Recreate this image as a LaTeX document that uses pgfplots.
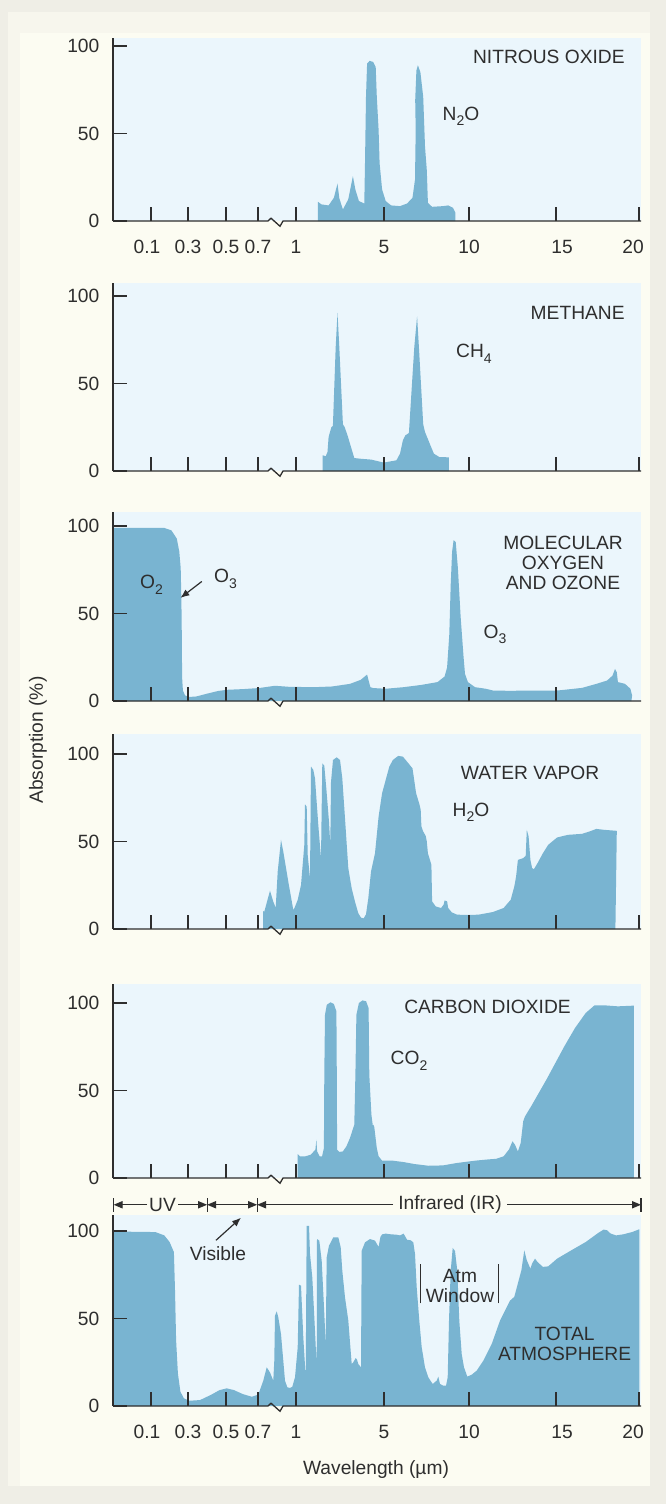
\documentclass[border=0pt]{standalone}
\usepackage{fontspec}
\setmainfont{Liberation Sans}
\usepackage{pgfplots}
\pgfplotsset{compat=1.18}
\usetikzlibrary{arrows.meta}

\definecolor{outerbg}{HTML}{EFEEE6}
\definecolor{cream}{HTML}{FCFCF2}
\definecolor{panelbg}{HTML}{EBF6FC}
\definecolor{band}{HTML}{79B4D1}
\definecolor{ink}{HTML}{2E2E2E}

\newcommand{\sub}[1]{\raisebox{-0.55ex}{\fontsize{7}{7}\selectfont #1}}
\newcommand{\lbl}{\fontsize{9.6}{10}\selectfont}

\pgfplotsset{
  panel/.style={
    x=0.5pt, y=0.875pt,
    xmin=113, xmax=641, ymin=0,
    anchor=south west,
    clip=false, axis on top,
    axis lines*=left,
    x axis line style={draw=none},
    y axis line style={ink, line width=0.65pt},
    axis background/.style={fill=panelbg},
    tick align=inside,
    major tick length=7.2pt,
    tick style={ink, line width=0.65pt},
    xtick={151,188,226,258,296,384,469,556,639},
    xticklabels={},
    ytick={0,50,100},
    /pgf/number format/assume math mode=true,
    yticklabel style={font=\lbl, text=ink, xshift=-3.3pt},
    xticklabel style={font=\lbl, text=ink, yshift=-6pt},
  },
  withx/.style={xticklabels={\hspace*{-4pt}0.1,0.3,0.5,0.7,1,5,10,15\hspace*{-6pt},\hspace*{-6pt}20}},
}
\newcommand{\xaxisline}{\draw[ink, line width=0.65pt] (axis cs:113,0) -- (axis cs:268,0) -- (axis cs:271,1.6) -- (axis cs:280,-3) -- (axis cs:283,0) -- (axis cs:641,0);}
\newcommand{\vbar}[3]{\draw[ink, line width=0.6pt] (axis cs:#1,#2) -- (axis cs:#1,#3);}
\tikzset{ah/.tip={Triangle[length=4.5pt,width=3.6pt]}}

\begin{document}
\begin{tikzpicture}[font=\lbl, text=ink]
\useasboundingbox (0,0) rectangle (333pt,-752pt);
\fill[outerbg] (0,0) rectangle (333pt,-752pt);
\fill[cream!60!outerbg] (4pt,-6pt) rectangle (325pt,-743pt);
\fill[cream] (10pt,-16.5pt) rectangle (325pt,-743pt);
\node[rotate=90] at (19pt,-370pt) {Absorption (\%)};
\node at (188pt,-735pt) {Wavelength (µm)};

% nitrous oxide
\begin{axis}[panel, withx, ymax=104.6, at={(56.5pt,-110.5pt)}]
\addplot[fill=band, draw=none] coordinates {
(317.9,0)(317.9,11)(321.4,9.5)(328.6,8.9)(333.9,13.3)(337.5,21.4)(339.3,13)(342.9,6.6)(348.2,12.3)(352.9,25.6)(355.4,17.9)(358.9,11.4)(364.3,10)(365,33)(366,71)(367.1,90)(369.6,91.5)(373.2,90.9)(375.7,88)(376.8,71)(378.6,52)(379.6,33)(382.1,18)(385.7,11.4)(391.1,8.9)(400,8.5)(407.1,10)(412.5,13.3)(415,23.7)(415.7,52)(415.2,69)(416.4,86)(417.9,89)(420.4,85)(423.2,71)(425,42.6)(426.8,29)(427.9,10.4)(432.1,8.1)(442.9,8.5)(448.2,8.9)(452.9,7.6)(455.4,4.7)(455.4,0)
} -- cycle;
\xaxisline
\node[anchor=east, inner xsep=0pt] at (axis cs:625,93.7) {NITROUS OXIDE};
\node[anchor=base] at (axis cs:461,57.7) {N\sub{2}O};
\end{axis}

% methane
\begin{axis}[panel, ymax=107.4, at={(56.5pt,-235.5pt)}]
\addplot[fill=band, draw=none] coordinates {
(322.5,0)(322.5,9)(325.7,8.4)(327.5,10.9)(328.6,19.4)(331.4,25.1)(332.9,25.7)(335.7,70.9)(337.5,90.3)(339.3,70.9)(342.9,26.7)(344.6,25.1)(347.5,20.4)(350,15.6)(354.3,7.4)(360.7,7)(371.4,6.5)(378.6,5.5)(383.2,4.9)(383.2,0)
} -- cycle;
\addplot[fill=band, draw=none] coordinates {
(384.6,0)(384.6,4.9)(396.4,6.1)(400,9.9)(402.9,17.5)(405.4,20.4)(408.9,21.7)(414.3,70.9)(417.1,88.4)(418.9,70.9)(423.2,26.7)(425,22.3)(430.4,14.7)(433.9,9.9)(439.3,8)(448.9,7.8)(448.9,0)
} -- cycle;
\xaxisline
\node[anchor=east, inner xsep=0pt] at (axis cs:625,90.5) {METHANE};
\node[anchor=base] at (axis cs:474,64.6) {CH\sub{4}};
\end{axis}

% molecular oxygen and ozone
\begin{axis}[panel, ymax=108, at={(56.5pt,-350.5pt)}, xtick={151,188,226,258,296,384,469,556}]
\addplot[fill=band, draw=none] coordinates {
(113,0)(113,98.9)(164.3,98.9)(171.4,97.5)(176.8,92.8)(179.3,85.3)(180.7,75.8)(181.4,57)(181.8,38.1)(182.1,13.6)(182.9,6)(185,3.2)(189.3,2.3)(196.4,2.6)(207.1,4.2)(217.9,5.7)(226.8,6.4)(242.9,6.8)(258.9,7.4)(275,8.7)(289.3,8.1)(314.3,7.9)(332.1,8.3)(350,9.8)(360.7,12.1)(367.1,15.1)(368.6,11.7)(370.4,7.9)(373.2,7.4)(385.7,7)(403.6,7.9)(421.4,9.2)(437.5,10.8)(444.6,14)(447.1,19.2)(449.3,38.1)(450.7,66.4)(452.1,85.3)(453.6,91.9)(455.7,90.9)(457.9,75.8)(460.7,47.5)(463.6,24.9)(465,15.5)(467.9,10.8)(475,7.9)(485.7,7)(492.9,6)(510.7,5.8)(528.6,6)(546.4,6)(557.1,6)(564.3,6.4)(582.1,7.5)(596.4,9.8)(607.1,11.7)(612.5,14.5)(615,18.3)(616.8,16.4)(617.9,10.8)(625,9.8)(630.4,7)(632.1,3.2)(631.4,0)
} -- cycle;
\xaxisline
\node[align=center, font=\fontsize{9.6}{10}\selectfont] at (axis cs:563,78.7) {MOLECULAR\\OXYGEN\\AND OZONE};
\node[anchor=base] at (axis cs:151.5,64.3) {O\sub{2}};
\node[anchor=base] at (axis cs:225.5,67.7) {O\sub{3}};
\draw[-{Latex[length=4.5pt,width=3.6pt]}, ink, line width=0.6pt] (axis cs:201.8,68.3) -- (axis cs:180.4,58.9);
\node[anchor=base] at (axis cs:495,36) {O\sub{3}};
\end{axis}

% water vapor
\begin{axis}[panel, ymax=111.4, at={(56.5pt,-464.5pt)}]
\addplot[fill=band, draw=none] coordinates {
(263,0)(263,10.3)(264.3,9.9)(270,21.9)(273.3,15.6)(275.7,12.2)(277.7,32.8)(281,50.9)(283.3,44.2)(288.3,27)(293.3,10.9)(294.3,11.8)(297.7,16.6)(301,25.1)(304.3,48)(305,71.2)(306.7,69.9)(307.7,42.3)(310,29)(311,92.8)(313.3,90.9)(315,86.1)(318.3,59.4)(321,40.4)(322.3,94.7)(324.3,93.3)(326.3,80.4)(329,61.3)(330.3,48)(331,84)(333,96.6)(336.7,98.1)(340,96.6)(342.3,86.1)(345,63.2)(348.3,34.7)(351.7,23.2)(355,15.6)(358.3,9)(361,6.5)(363.7,6.1)(366,8.4)(368.3,17.5)(371,32.8)(375,43.3)(378.6,64.3)(382.1,77.6)(385.7,85.2)(389.3,92.8)(392.9,96.6)(398.2,98.9)(402.9,98.5)(407.1,95.6)(412.5,91.8)(416.1,77.6)(419.6,70.9)(420.7,68.1)(421.4,58.6)(423.2,55.7)(425.7,53.2)(426.8,50)(427.9,43.3)(430.4,38.6)(431.4,36.7)(432.1,15.8)(435.7,12.9)(441.1,12)(443.6,13.9)(444.6,16.3)(447.1,15.8)(448.2,12)(451.8,9.5)(457.1,8.2)(467.9,8)(478.6,8.2)(492.9,9.7)(503.6,12)(510.7,16.7)(514.3,24.3)(516.1,30)(517.9,39.5)(523.2,40.5)(525.7,41.8)(526.8,56.7)(528.6,52.9)(530.4,39.5)(532.1,34.8)(533.9,34.2)(537.5,37.6)(542.9,43.3)(548.2,48.1)(557.1,52.3)(567.9,53.8)(582.1,54.4)(589.3,55.7)(596.4,57.2)(603.6,56.7)(616.8,56.1)(615.4,0)
} -- cycle;
\xaxisline
\node at (axis cs:530,89.4) {WATER VAPOR};
\node[anchor=base] at (axis cs:471,64.4) {H\sub{2}O};
\end{axis}

% carbon dioxide
\begin{axis}[panel, ymax=110.9, at={(56.5pt,-589pt)}]
\addplot[fill=band, draw=none] coordinates {
(297.5,0)(297.5,13.7)(300,12.4)(305.4,12.4)(310.7,13.3)(315.4,16.2)(316.4,21.9)(317.1,15.2)(319.6,12.4)(322.1,12.4)(323.9,17.1)(324.3,59)(325,93.3)(326.8,99)(330.4,100.4)(333.9,99.4)(336.4,95.2)(336.8,59)(337.1,16.2)(339.3,14.9)(342.9,15.2)(346.4,18.1)(350,22.9)(354.3,30.5)(355.4,59)(356.4,93.3)(358.9,100)(362.5,101.5)(366.1,101)(368.6,97.1)(369.3,59)(371.4,36.2)(372.9,29.5)(373.6,30.5)(374.3,29)(375,25.7)(376.8,17.1)(378.6,12.4)(382.1,9.9)(392.9,9.9)(403.6,9.1)(414.3,8)(428.6,7)(442.9,7.2)(457.1,8.6)(475,9.9)(485.7,10.5)(496.4,11)(503.6,12.4)(508.9,16.2)(512.5,21)(515,19)(517.9,15.2)(520.7,20)(523.2,32.4)(525,35.2)(532.1,41.9)(546.4,56.2)(564.3,75.2)(575,85.7)(585.7,94.3)(594.6,98.7)(603.6,98.7)(617.9,98.1)(633.9,98.5)(633.9,0)
} -- cycle;
\xaxisline
\node at (axis cs:487.5,97.7) {CARBON DIOXIDE};
\node[anchor=base] at (axis cs:409,64.6) {CO\sub{2}};
\end{axis}

% total atmosphere
\begin{axis}[panel, withx, ymax=109.1, at={(56.5pt,-703pt)}]
\addplot[fill=band, draw=none] coordinates {
(113,0)(113,99.4)(128.6,99.6)(155.4,99.4)(164.3,97.5)(169.6,93.7)(173.9,88)(175,66.2)(176.1,37.6)(177.9,18.6)(180.4,8.2)(183.9,4.4)(189.3,3)(200,3.4)(210.7,6.3)(219.6,9.1)(226.8,10.1)(233.9,9.1)(242.9,6.8)(251.8,5.3)(258.3,6.5)(263.3,14.5)(266.7,22.1)(270,19.2)(273.3,14.5)(274.3,25.9)(275,51.6)(276.7,54.1)(278.3,50.7)(281,41.1)(285,14.5)(287.3,10.7)(290,10.3)(292.3,11)(295,16.4)(297.7,33.5)(299,69.3)(301,68.8)(303.3,39.2)(305.7,16.4)(306.7,103)(309,103)(310,86.9)(312.3,73.5)(315,43)(316.7,22.1)(317,95.4)(319.3,94.5)(321.7,83)(324,56.4)(325.7,35.4)(326.7,85)(329,91.6)(333.3,96.4)(338.3,96.4)(340.7,90.7)(342.3,77.3)(345,62.1)(348.3,48.8)(351.7,24)(353.3,25)(355.7,27.4)(357,26.5)(358.3,24)(361,22.1)(361.7,88.8)(365,93.5)(370,95.4)(375,94.5)(378.6,90.9)(380.4,96.6)(382.1,98.1)(385.7,98.5)(391.1,98.1)(396.4,97.9)(400,97.5)(403.6,98.5)(407.1,95)(410.7,94.7)(413.3,93.5)(415,86.9)(416.7,67.8)(419.3,48.8)(421.7,33.5)(425,22.1)(428.3,16.4)(432.7,12.6)(436.7,14.5)(438.3,16.8)(440,12.6)(443.3,11.6)(446,11.6)(447.7,16.4)(449,48.8)(450.7,77.3)(452.7,90.3)(455,88.6)(457.3,77.3)(459.3,48.8)(461.7,29.7)(464,22.1)(467.3,16.8)(471.7,17.9)(476.7,20.2)(483.3,25.9)(491.7,35.4)(500,48.8)(510,60.2)(514.3,62.4)(521.4,77.6)(524.3,89)(526.8,83.3)(530.4,78.5)(532.1,81.4)(535,84.2)(537.5,82.3)(542.9,79.5)(548.2,79.8)(557.1,84.2)(571.4,89)(585.7,93.7)(598.2,98.9)(603.6,100.8)(607.1,100.4)(610.7,98.5)(616.1,97.5)(623.2,98.1)(632.1,99.4)(639.3,101)(639.3,0)
} -- cycle;
\xaxisline
% spectral regions
\vbar{113.6}{111}{119}
\vbar{207.1}{111}{119}
\vbar{257.1}{111}{119}
\vbar{641}{111}{119}
\draw[ink, line width=0.6pt, -ah] (axis cs:147,115) -- (axis cs:113.6,115);
\node at (axis cs:162.5,115) {UV};
\draw[ink, line width=0.6pt, -ah] (axis cs:178,115) -- (axis cs:207.1,115);
\draw[ink, line width=0.6pt, ah-ah] (axis cs:207.1,115) -- (axis cs:257.1,115);
\draw[ink, line width=0.6pt, -ah] (axis cs:393,115) -- (axis cs:257.1,115);
\node at (axis cs:450,115) {Infrared (IR)};
\draw[ink, line width=0.6pt, -ah] (axis cs:507,115) -- (axis cs:641,115);
\node at (axis cs:218,87) {Visible};
\draw[ink, line width=0.6pt, -{Latex[length=4.5pt,width=3.6pt]}] (axis cs:216,94.7) -- (axis cs:241,107.6);
\vbar{420.6}{58.7}{81.1}
\vbar{498.3}{58.7}{81.1}
\node[align=center, font=\fontsize{9.6}{10}\selectfont] at (axis cs:460,68.7) {Atm\\Window};
\node[align=center, font=\fontsize{9.6}{10}\selectfont] at (axis cs:564.6,35.7) {TOTAL\\ATMOSPHERE};
\end{axis}
\end{tikzpicture}
\end{document}
